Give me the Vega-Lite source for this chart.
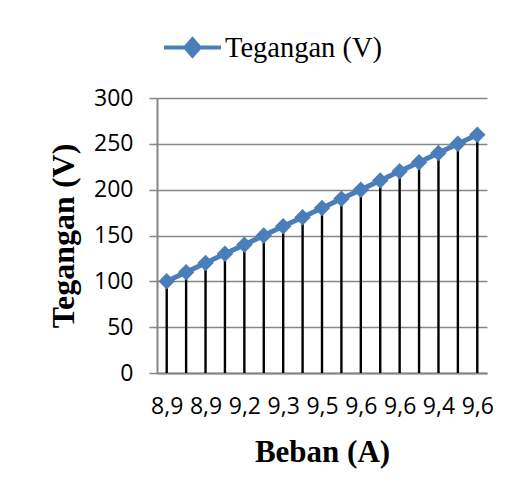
{
  "$schema": "https://vega.github.io/schema/vega-lite/v6.json",
  "autosize": {"type": "none"},
  "width": 330,
  "height": 275,
  "padding": {"left": 157, "top": 98, "right": 26, "bottom": 122},
  "background": "white",
  "config": {"view": {"stroke": null}},
  "data": {
    "values": [
      {"key": "01|8,9", "beban": "8,9", "tegangan": 100},
      {"key": "02|8,9", "beban": "8,9", "tegangan": 110},
      {"key": "03|8,9", "beban": "8,9", "tegangan": 120},
      {"key": "04|9,0", "beban": "9,0", "tegangan": 130},
      {"key": "05|9,2", "beban": "9,2", "tegangan": 140},
      {"key": "06|9,2", "beban": "9,2", "tegangan": 150},
      {"key": "07|9,3", "beban": "9,3", "tegangan": 160},
      {"key": "08|9,4", "beban": "9,4", "tegangan": 170},
      {"key": "09|9,5", "beban": "9,5", "tegangan": 180},
      {"key": "10|9,5", "beban": "9,5", "tegangan": 190},
      {"key": "11|9,6", "beban": "9,6", "tegangan": 200},
      {"key": "12|9,6", "beban": "9,6", "tegangan": 210},
      {"key": "13|9,6", "beban": "9,6", "tegangan": 220},
      {"key": "14|9,5", "beban": "9,5", "tegangan": 230},
      {"key": "15|9,4", "beban": "9,4", "tegangan": 240},
      {"key": "16|9,5", "beban": "9,5", "tegangan": 250},
      {"key": "17|9,6", "beban": "9,6", "tegangan": 260}
    ]
  },
  "encoding": {
    "x": {
      "field": "key",
      "type": "ordinal",
      "scale": {"type": "point", "padding": 0.5},
      "axis": {
        "title": "Beban (A)",
        "titleFont": "Liberation Serif",
        "titleFontSize": 31,
        "titleFontWeight": "bold",
        "titleColor": "black",
        "titlePadding": 19,
        "labelFont": "Open Sans",
        "labelFontSize": 23,
        "labelColor": "black",
        "labelAngle": 0,
        "labelPadding": 22,
        "labelOverlap": false,
        "labelExpr": "toNumber(slice(datum.value,0,2)) % 2 == 1 ? slice(datum.value,3) : ''",
        "ticks": false,
        "grid": false,
        "domainColor": "#868686",
        "domainWidth": 2
      }
    },
    "y": {
      "field": "tegangan",
      "type": "quantitative",
      "scale": {"domain": [0, 300], "nice": false},
      "axis": {
        "title": "Tegangan (V)",
        "titleFont": "Liberation Serif",
        "titleFontSize": 32,
        "titleFontWeight": "bold",
        "titleColor": "black",
        "titlePadding": 13,
        "values": [0, 50, 100, 150, 200, 250, 300],
        "labelFont": "Open Sans",
        "labelFontSize": 23,
        "labelColor": "black",
        "labelPadding": 16,
        "tickSize": 8,
        "tickColor": "#868686",
        "tickWidth": 1.5,
        "domainColor": "#868686",
        "domainWidth": 2,
        "gridColor": "#868686",
        "gridWidth": 1.5
      }
    }
  },
  "layer": [
    {
      "mark": {"type": "rule", "color": "black", "strokeWidth": 2.4},
      "encoding": {"y2": {"datum": 0}}
    },
    {
      "mark": {"type": "line", "strokeWidth": 5},
      "encoding": {
        "color": {
          "datum": "Tegangan (V)",
          "scale": {"range": ["#4a7ebb"]},
          "legend": {
            "title": null,
            "orient": "none",
            "legendX": 5,
            "legendY": -81,
            "padding": 0,
            "labelFont": "Liberation Serif",
            "labelFontSize": 28.5,
            "labelColor": "black",
            "labelOffset": 2,
            "symbolType": "M-1,0H1M0,-0.29L0.25,0L0,0.29L-0.25,0Z",
            "symbolSize": 3249,
            "symbolStrokeWidth": 4,
            "symbolStrokeColor": "#4a7ebb",
            "symbolFillColor": "#4a7ebb",
            "encode": {
              "symbols": {
                "update": {
                  "fill": {"value": "#4a7ebb"},
                  "stroke": {"value": "#4a7ebb"},
                  "strokeWidth": {"value": 4},
                  "opacity": {"value": 1}
                }
              }
            }
          }
        }
      }
    },
    {
      "mark": {"type": "point", "shape": "diamond", "filled": true, "size": 270, "opacity": 1, "color": "#4a7ebb"}
    }
  ]
}
